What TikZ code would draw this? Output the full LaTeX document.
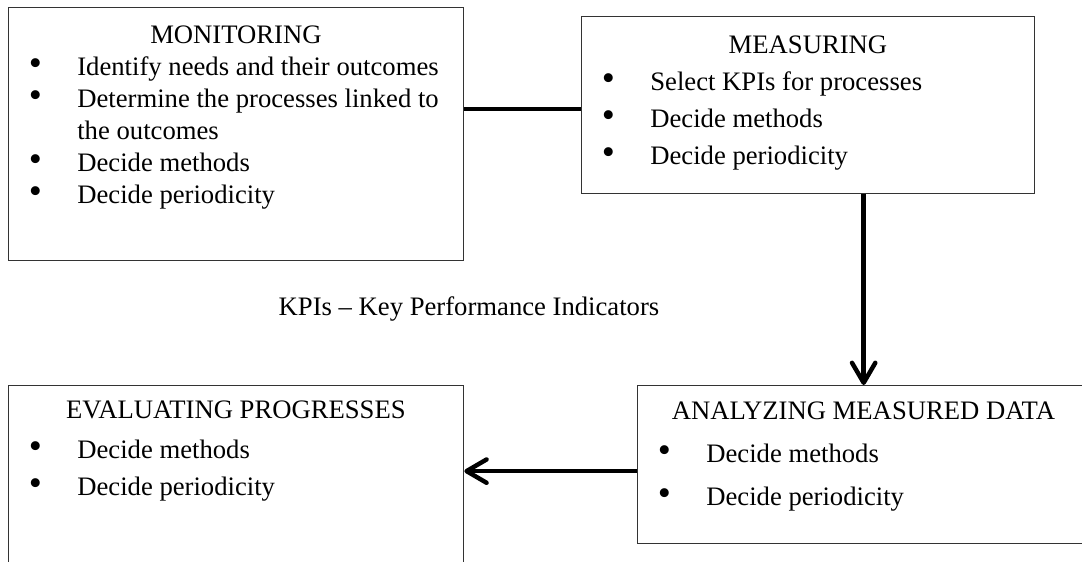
\documentclass[tikz,border=0pt]{standalone}
\usepackage{fontspec}
\setmainfont{Liberation Serif}
\usetikzlibrary{positioning,arrows.meta}

\newcommand{\boxtitle}[1]{{\centering\rule{0pt}{12pt}#1\par}}
\newcommand{\boxitem}[1]{\hangindent=31pt\hangafter=1\noindent\makebox[31pt][l]{\hspace{9.2pt}\smash{\scalebox{1.4}{\textbullet}}}#1\par}

\begin{document}
\begin{tikzpicture}
    [x=0.45pt, y=-0.45pt,
    every node/.style={font=\fontsize{12}{14.4}\selectfont},
    panel/.style={draw=black!80, line width=0.6pt, inner sep=0pt, anchor=north west},
    paneltext/.style={inner sep=0pt, align=flush left, text width=#1},
    link/.style={line width=2pt},
    flow/.style={line width=2pt, -{Straight Barb[length=9pt, width=10.5pt, round]}}
    ]
    \path[use as bounding box, clip] (0,0) rectangle (1082,561);
    \node (mon) [panel, minimum width=204.75pt, minimum height=113.85pt] at (8,7) {};
    \node (mea) [panel, minimum width=203.85pt, minimum height=79.65pt] at (581,16) {};
    \node (eva) [panel, minimum width=204.75pt, minimum height=135pt] at (8,385) {};
    \node (ana) [panel, minimum width=203.4pt, minimum height=71.1pt] at (637,385) {};
    \node (mon text) [paneltext=204.75pt, below right=4.2pt and 0pt of mon.north west] {
        \boxtitle{MONITORING}
        \boxitem{Identify needs and their outcomes}
        \boxitem{Determine the processes linked to\newline the outcomes}
        \boxitem{Decide methods}
        \boxitem{Decide periodicity}};
    \node (mea text) [paneltext=203.85pt, font=\fontsize{12}{16.65}\selectfont,
        below right=4.65pt and 0pt of mea.north west] {
        \boxtitle{MEASURING}
        \boxitem{Select KPIs for processes}
        \boxitem{Decide methods}
        \boxitem{Decide periodicity}};
    \node (eva text) [paneltext=204.75pt, font=\fontsize{12}{16.65}\selectfont,
        below right=2.85pt and 0pt of eva.north west] {
        \boxtitle{EVALUATING PROGRESSES}
        \vspace{1.35pt}
        \boxitem{Decide methods}
        \boxitem{Decide periodicity}};
    \node (ana text) [paneltext=203.4pt, font=\fontsize{12}{19.35}\selectfont,
        below right=3.3pt and 0pt of ana.north west] {
        \boxtitle{ANALYZING MEASURED DATA}
        \boxitem{Decide methods}
        \boxitem{Decide periodicity}};
    \node (kpi) [anchor=base] at (469,315) {KPIs – Key Performance Indicators};
    \coordinate (joint) at ([yshift=-1.6pt]mea.west);
    \coordinate (mid) at ([yshift=-2.9pt]ana.west);
    \draw[link] (joint) -- (joint -| mon.east);
    \draw[flow] (ana.north |- mea.south) -- (ana.north);
    \draw[flow] (mid) -- (mid -| eva.east);
\end{tikzpicture}
\end{document}
